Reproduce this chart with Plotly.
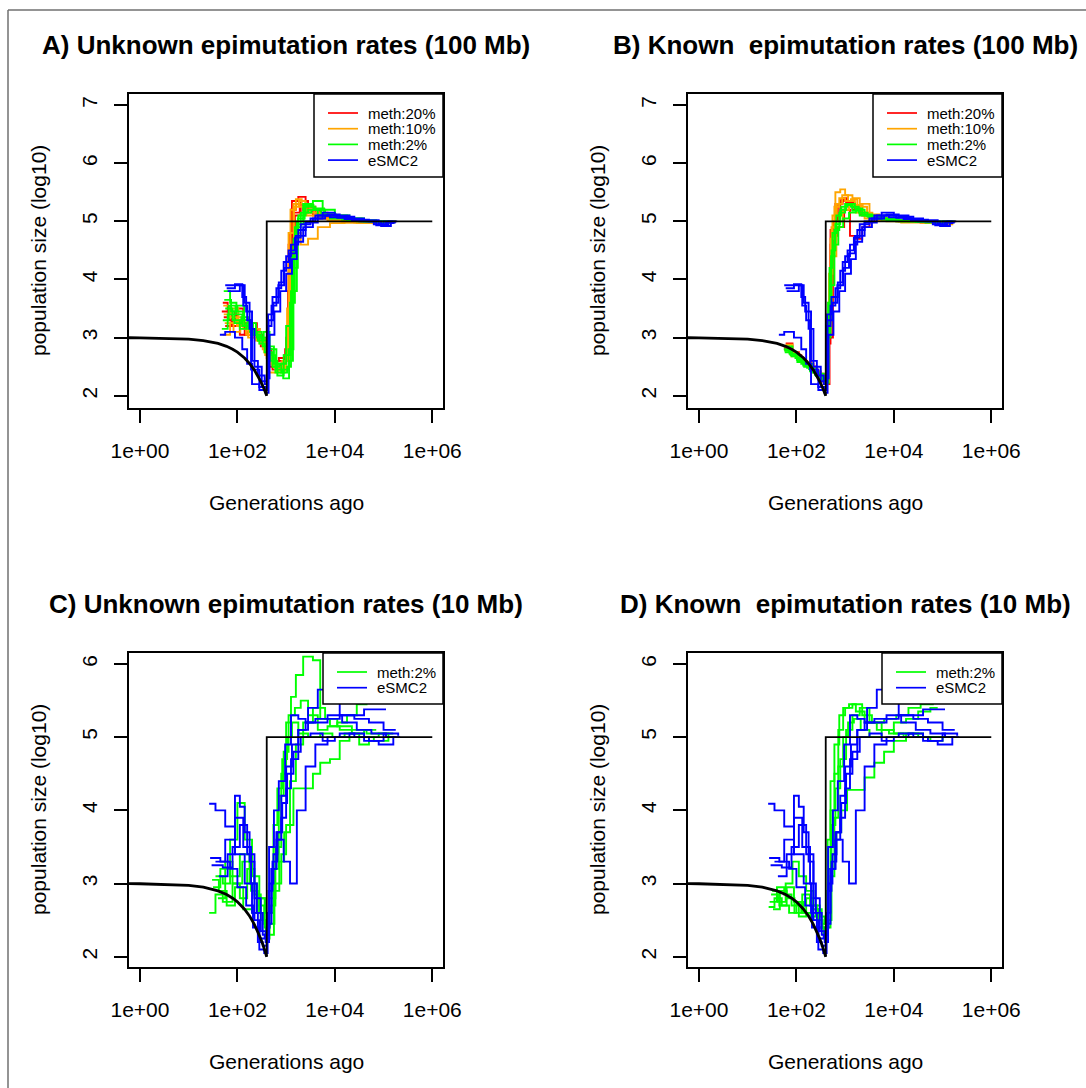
import numpy as np
import plotly.graph_objects as go

W, H = 1086, 1088
FONT = "Liberation Sans, Arial, Helvetica, sans-serif"

# ---------------- data (log10 generations ago, log10 population size) ----------------
# true (simulated) demography
TRUE_CURVE_T = [0.3, 1, 10, 20, 40, 60, 80, 100, 140, 180, 220, 260, 300, 340, 370, 390, 400]
TRUE_CURVE_V = [2.9993, 2.9975, 2.975, 2.95, 2.90, 2.85, 2.80, 2.75, 2.65, 2.55, 2.45, 2.35,
                2.25, 2.15, 2.075, 2.025, 2.0]
TRUE_STEP_T = [400, 400, 1e6]
TRUE_STEP_V = [2.0, 5.0, 5.0]

# eSMC2 (blue), 100 Mb - same in panels A and B
BLUE_100 = [
    ([1.75, 2.12, 2.20, 2.28, 2.45, 2.58, 2.62, 2.70, 2.80, 2.90, 3.00, 3.10, 3.25, 3.40, 3.60, 3.85, 4.10, 4.40, 4.70, 4.85, 5.05, 5.25],
     [3.90, 3.55, 3.30, 2.45, 2.15, 2.10, 3.20, 3.55, 3.85, 4.15, 4.40, 4.60, 4.85, 5.00, 5.10, 5.12, 5.08, 5.03, 5.00, 4.93, 4.98, 4.98]),
    ([1.78, 1.95, 2.10, 2.18, 2.30, 2.42, 2.56, 2.63, 2.72, 2.85, 2.95, 3.05, 3.18, 3.30, 3.50, 3.75, 4.00, 4.30, 4.60, 4.90, 5.10, 5.28],
     [3.85, 3.92, 3.70, 3.45, 2.60, 2.35, 2.20, 3.40, 3.70, 3.95, 4.30, 4.50, 4.72, 4.95, 5.05, 5.15, 5.10, 5.05, 5.02, 4.95, 5.00, 5.00]),
    ([1.80, 2.05, 2.15, 2.25, 2.35, 2.50, 2.60, 2.66, 2.76, 2.88, 3.00, 3.12, 3.22, 3.35, 3.55, 3.80, 4.05, 4.35, 4.65, 4.95, 5.15, 5.22],
     [3.80, 3.90, 3.60, 3.15, 2.50, 2.25, 2.30, 3.05, 3.45, 3.80, 4.10, 4.35, 4.65, 4.90, 5.05, 5.10, 5.06, 5.02, 5.00, 4.92, 4.97, 4.97]),
    ([1.64, 1.75, 1.95, 2.10, 2.20, 2.30, 2.45, 2.58, 2.64, 2.74, 2.84, 2.96, 3.08, 3.20, 3.40, 3.65, 3.90, 4.20, 4.50, 4.80, 5.00, 5.20],
     [3.05, 3.10, 3.00, 2.80, 2.55, 2.20, 2.10, 2.05, 3.30, 3.60, 3.90, 4.20, 4.45, 4.75, 4.98, 5.10, 5.07, 5.04, 5.00, 4.95, 5.00, 5.00]),
]

# panel A: unknown epimutation rates (100 Mb)
RED_A = [
    ([1.70, 1.80, 1.95, 2.10, 2.25, 2.40, 2.52, 2.62, 2.80, 2.95, 3.05, 3.12, 3.25, 3.40, 3.60, 3.85, 4.10, 4.40, 4.70, 5.00, 5.25],
     [3.60, 3.45, 3.30, 3.20, 3.25, 3.05, 2.90, 2.55, 2.50, 2.60, 4.60, 5.35, 5.42, 5.25, 5.15, 5.07, 5.03, 5.00, 4.98, 5.00, 5.00]),
    ([1.72, 1.90, 2.05, 2.20, 2.35, 2.48, 2.60, 2.72, 2.88, 3.00, 3.10, 3.20, 3.35, 3.55, 3.80, 4.05, 4.35, 4.65, 4.95, 5.20],
     [3.35, 3.20, 3.05, 3.10, 3.00, 2.85, 2.70, 2.45, 2.55, 3.00, 5.20, 5.30, 5.20, 5.10, 5.05, 5.02, 5.00, 4.98, 5.00, 5.00]),
    ([1.75, 1.88, 2.00, 2.15, 2.30, 2.45, 2.58, 2.70, 2.85, 2.98, 3.08, 3.18, 3.30, 3.45, 3.70, 3.95, 4.25, 4.55, 4.85, 5.15],
     [3.20, 3.40, 3.25, 3.05, 3.15, 2.95, 2.80, 2.60, 2.65, 2.80, 4.80, 5.10, 5.35, 5.20, 5.08, 5.03, 5.00, 5.00, 4.98, 4.98]),
    ([1.68, 1.82, 1.97, 2.12, 2.28, 2.42, 2.55, 2.66, 2.82, 2.96, 3.04, 3.14, 3.28, 3.45, 3.65, 3.90, 4.20, 4.50, 4.80, 5.10, 5.26],
     [3.45, 3.30, 3.50, 3.25, 3.05, 2.95, 2.85, 2.50, 2.60, 2.70, 3.80, 5.15, 5.30, 5.15, 5.06, 5.02, 5.00, 4.99, 4.98, 5.00, 5.00]),
]
ORANGE_A = [
    ([1.70, 1.85, 2.00, 2.12, 2.28, 2.42, 2.55, 2.65, 2.80, 2.95, 3.05, 3.15, 3.28, 3.42, 3.60, 3.85, 4.15, 4.45, 4.75, 5.05, 5.25],
     [3.05, 3.25, 3.35, 3.15, 3.10, 2.95, 2.75, 2.40, 2.45, 2.60, 4.80, 5.30, 5.25, 5.10, 5.05, 5.02, 4.98, 4.97, 4.98, 5.00, 5.00]),
    ([1.72, 1.88, 2.02, 2.18, 2.32, 2.46, 2.60, 2.75, 2.90, 3.00, 3.10, 3.20, 3.30, 3.45, 3.65, 3.90, 4.20, 4.50, 4.80, 5.10, 5.22],
     [3.40, 3.50, 3.20, 3.05, 3.15, 2.90, 2.65, 2.50, 2.45, 2.70, 4.50, 4.80, 4.60, 4.70, 4.90, 4.97, 4.98, 4.97, 4.96, 4.98, 4.98]),
    ([1.74, 1.92, 2.06, 2.22, 2.38, 2.52, 2.64, 2.78, 2.92, 3.02, 3.09, 3.20, 3.32, 3.48, 3.70, 3.95, 4.25, 4.55, 4.85, 5.15],
     [3.25, 3.10, 3.30, 3.00, 2.95, 2.80, 2.55, 2.45, 2.60, 3.50, 5.20, 5.38, 5.30, 5.15, 5.05, 5.00, 4.99, 4.98, 4.98, 4.98]),
    ([1.71, 1.84, 1.99, 2.14, 2.30, 2.44, 2.57, 2.70, 2.84, 2.97, 3.06, 3.16, 3.26, 3.40, 3.58, 3.80, 4.10, 4.40, 4.70, 5.00, 5.24],
     [3.55, 3.35, 3.20, 3.30, 3.10, 3.00, 2.70, 2.55, 2.40, 2.50, 4.20, 5.25, 5.35, 5.20, 5.10, 5.04, 5.00, 4.98, 4.97, 4.99, 4.99]),
]
GREEN_A = [
    ([1.72, 1.85, 1.98, 2.12, 2.26, 2.40, 2.52, 2.62, 2.78, 2.92, 3.05, 3.15, 3.25, 3.40, 3.60, 3.80, 4.00, 4.25, 4.55, 4.85, 5.15, 5.25],
     [3.80, 3.60, 3.45, 3.30, 3.10, 3.00, 2.85, 2.70, 2.40, 2.45, 2.80, 4.70, 5.10, 5.25, 5.20, 5.12, 5.10, 5.05, 5.02, 5.00, 5.00, 5.00]),
    ([1.70, 1.82, 1.96, 2.10, 2.25, 2.38, 2.50, 2.62, 2.75, 2.90, 3.02, 3.10, 3.22, 3.35, 3.55, 3.75, 4.00, 4.30, 4.60, 4.90, 5.20],
     [3.30, 3.55, 3.40, 3.20, 3.25, 3.10, 2.95, 2.85, 2.55, 2.40, 2.50, 3.80, 5.00, 5.30, 5.35, 5.20, 5.10, 5.05, 5.00, 4.98, 4.98]),
    ([1.75, 1.90, 2.05, 2.18, 2.32, 2.45, 2.56, 2.68, 2.82, 2.95, 3.08, 3.18, 3.30, 3.45, 3.65, 3.90, 4.15, 4.45, 4.75, 5.05, 5.22],
     [3.50, 3.30, 3.15, 3.25, 3.05, 2.90, 2.75, 2.60, 2.35, 2.70, 3.60, 4.90, 5.15, 5.20, 5.10, 5.05, 5.03, 5.00, 5.00, 4.97, 4.97]),
    ([1.68, 1.80, 1.94, 2.08, 2.22, 2.36, 2.48, 2.60, 2.72, 2.86, 3.00, 3.12, 3.22, 3.36, 3.52, 3.72, 3.95, 4.25, 4.55, 4.85, 5.15],
     [3.15, 3.40, 3.25, 3.35, 3.15, 3.05, 3.00, 2.75, 2.50, 2.55, 3.20, 4.40, 4.95, 5.15, 5.20, 5.12, 5.06, 5.02, 5.00, 5.00, 5.00]),
    ([1.73, 1.87, 2.00, 2.14, 2.28, 2.42, 2.54, 2.66, 2.80, 2.94, 3.06, 3.14, 3.24, 3.38, 3.56, 3.78, 4.02, 4.30, 4.60, 4.90, 5.18],
     [3.65, 3.45, 3.55, 3.20, 3.05, 2.95, 3.10, 2.80, 2.45, 2.30, 2.60, 4.20, 5.05, 5.28, 5.22, 5.12, 5.06, 5.02, 5.00, 4.99, 4.99]),
]

# panel B: known epimutation rates (100 Mb)
RED_B = [
    ([1.74, 1.85, 1.98, 2.10, 2.22, 2.35, 2.48, 2.58, 2.64, 2.70, 2.76, 2.85, 2.95, 3.05, 3.18, 3.30, 3.45, 3.65, 3.90, 4.20, 4.50, 4.80, 5.10, 5.25],
     [2.85, 2.75, 2.70, 2.60, 2.55, 2.40, 2.30, 2.25, 3.05, 4.60, 5.00, 5.30, 5.40, 5.35, 5.25, 5.15, 5.10, 5.06, 5.03, 5.00, 4.99, 4.98, 5.00, 5.00]),
    ([1.76, 1.90, 2.02, 2.15, 2.28, 2.40, 2.52, 2.60, 2.68, 2.75, 2.85, 2.98, 3.10, 3.22, 3.35, 3.50, 3.70, 3.95, 4.25, 4.55, 4.85, 5.15],
     [2.80, 2.70, 2.65, 2.55, 2.50, 2.35, 2.25, 2.20, 3.00, 4.75, 4.90, 5.20, 4.75, 4.70, 4.90, 5.05, 5.05, 5.02, 5.00, 4.98, 4.98, 4.98]),
    ([1.78, 1.92, 2.05, 2.18, 2.30, 2.44, 2.56, 2.63, 2.70, 2.80, 2.92, 3.05, 3.20, 3.35, 3.55, 3.80, 4.10, 4.40, 4.70, 5.00, 5.20],
     [2.90, 2.75, 2.62, 2.58, 2.45, 2.38, 2.28, 2.90, 4.85, 5.30, 5.38, 5.32, 5.20, 5.10, 5.05, 5.03, 5.00, 5.00, 4.98, 5.00, 5.00]),
    ([1.75, 1.88, 2.00, 2.14, 2.26, 2.38, 2.50, 2.60, 2.66, 2.72, 2.80, 2.90, 3.02, 3.15, 3.30, 3.50, 3.75, 4.05, 4.35, 4.65, 4.95, 5.22],
     [2.82, 2.72, 2.66, 2.56, 2.50, 2.42, 2.32, 2.22, 3.30, 4.50, 5.10, 5.35, 5.30, 5.20, 5.12, 5.06, 5.02, 5.00, 4.99, 4.98, 4.99, 4.99]),
]
ORANGE_B = [
    ([1.74, 1.88, 2.00, 2.12, 2.25, 2.38, 2.50, 2.60, 2.66, 2.72, 2.80, 2.90, 3.00, 3.15, 3.30, 3.50, 3.70, 3.95, 4.25, 4.55, 4.85, 5.15, 5.28],
     [2.85, 2.72, 2.65, 2.58, 2.50, 2.40, 2.30, 2.25, 3.60, 4.90, 5.50, 5.55, 5.45, 5.40, 5.30, 5.12, 5.05, 5.02, 5.00, 4.98, 4.96, 5.00, 5.00]),
    ([1.76, 1.90, 2.04, 2.18, 2.30, 2.42, 2.54, 2.62, 2.70, 2.78, 2.88, 3.00, 3.12, 3.25, 3.45, 3.70, 4.00, 4.30, 4.60, 4.90, 5.20],
     [2.78, 2.68, 2.60, 2.52, 2.45, 2.35, 2.25, 3.20, 4.70, 5.25, 5.40, 5.35, 5.38, 5.25, 5.10, 5.05, 5.02, 5.00, 4.98, 4.95, 4.98]),
    ([1.78, 1.92, 2.06, 2.20, 2.34, 2.46, 2.58, 2.64, 2.72, 2.82, 2.95, 3.08, 3.22, 3.40, 3.60, 3.85, 4.15, 4.45, 4.75, 5.05, 5.22],
     [2.88, 2.72, 2.62, 2.55, 2.42, 2.32, 2.20, 3.40, 4.40, 5.00, 5.20, 5.28, 5.15, 5.05, 5.02, 5.00, 4.98, 4.98, 4.97, 4.99, 4.99]),
    ([1.77, 1.90, 2.03, 2.16, 2.29, 2.41, 2.53, 2.61, 2.67, 2.74, 2.83, 2.94, 3.06, 3.20, 3.36, 3.56, 3.80, 4.10, 4.40, 4.70, 5.00, 5.25],
     [2.84, 2.74, 2.64, 2.56, 2.48, 2.38, 2.28, 2.24, 4.10, 5.10, 5.30, 5.45, 5.35, 5.28, 5.15, 5.08, 5.03, 5.00, 4.99, 4.97, 5.00, 5.00]),
]
GREEN_B = [
    ([1.74, 1.86, 1.98, 2.10, 2.22, 2.34, 2.46, 2.56, 2.63, 2.68, 2.74, 2.82, 2.92, 3.05, 3.20, 3.35, 3.55, 3.80, 4.10, 4.40, 4.70, 5.00, 5.22],
     [2.80, 2.72, 2.65, 2.55, 2.48, 2.40, 2.32, 2.25, 3.10, 4.20, 4.80, 5.10, 5.25, 5.30, 5.22, 5.12, 5.08, 5.05, 5.02, 5.00, 5.00, 5.00, 5.00]),
    ([1.76, 1.90, 2.02, 2.16, 2.28, 2.40, 2.52, 2.60, 2.66, 2.72, 2.80, 2.90, 3.02, 3.15, 3.30, 3.50, 3.75, 4.05, 4.35, 4.65, 4.95, 5.20],
     [2.75, 2.68, 2.58, 2.50, 2.42, 2.35, 2.28, 2.22, 3.40, 4.50, 4.95, 5.20, 5.28, 5.18, 5.10, 5.05, 5.03, 5.00, 5.00, 4.98, 4.98, 4.98]),
    ([1.78, 1.92, 2.06, 2.18, 2.32, 2.44, 2.56, 2.64, 2.70, 2.78, 2.86, 2.96, 3.08, 3.22, 3.40, 3.60, 3.85, 4.15, 4.45, 4.75, 5.05, 5.25],
     [2.85, 2.70, 2.62, 2.55, 2.45, 2.38, 2.30, 3.00, 3.90, 4.60, 4.90, 5.05, 5.15, 5.20, 5.10, 5.05, 5.02, 5.00, 4.99, 5.00, 5.00, 5.00]),
    ([1.75, 1.88, 2.01, 2.14, 2.26, 2.38, 2.50, 2.59, 2.65, 2.71, 2.78, 2.88, 3.00, 3.12, 3.28, 3.46, 3.70, 4.00, 4.30, 4.60, 4.90, 5.18],
     [2.78, 2.70, 2.62, 2.52, 2.46, 2.36, 2.30, 2.24, 3.60, 4.40, 4.85, 5.15, 5.30, 5.25, 5.15, 5.08, 5.04, 5.01, 5.00, 4.99, 4.99, 4.99]),
]

# eSMC2 (blue), 10 Mb - same in panels C and D
BLUE_10 = [
    ([1.42, 1.55, 1.75, 1.95, 2.15, 2.30, 2.42, 2.52, 2.60, 2.66, 2.74, 2.82, 2.92, 3.02, 3.15, 3.30, 3.50, 3.75, 4.00, 4.30, 4.60, 4.90, 5.20, 5.34],
     [4.09, 4.00, 3.78, 3.40, 3.00, 2.60, 2.20, 2.15, 2.40, 3.00, 3.40, 3.70, 4.10, 4.50, 4.80, 5.00, 5.05, 4.95, 5.00, 5.05, 4.95, 4.90, 5.00, 5.00]),
    ([1.62, 1.80, 1.95, 2.05, 2.15, 2.25, 2.35, 2.45, 2.55, 2.62, 2.70, 2.80, 2.90, 3.00, 3.10, 3.25, 3.45, 3.65, 3.85, 4.10, 4.40, 4.70, 5.00, 5.25],
     [3.10, 3.40, 4.20, 4.05, 3.70, 3.30, 2.50, 2.10, 2.05, 2.60, 3.20, 3.60, 3.90, 4.30, 4.70, 5.10, 5.40, 5.65, 5.50, 5.30, 5.25, 5.20, 5.10, 5.10]),
    ([1.44, 1.65, 1.85, 2.00, 2.18, 2.32, 2.45, 2.56, 2.64, 2.72, 2.82, 2.95, 3.08, 3.22, 3.40, 3.60, 3.85, 4.10, 4.40, 4.70, 5.00, 5.30],
     [3.35, 3.30, 3.20, 2.95, 2.70, 2.40, 2.25, 2.30, 2.90, 3.30, 3.60, 3.30, 3.00, 4.00, 4.60, 4.90, 5.00, 5.05, 5.00, 4.95, 5.05, 5.02]),
    ([1.47, 1.70, 1.90, 2.05, 2.20, 2.35, 2.48, 2.58, 2.65, 2.75, 2.85, 2.98, 3.10, 3.25, 3.40, 3.60, 3.85, 4.15, 4.45, 4.75, 5.05, 5.25],
     [3.25, 3.22, 3.50, 3.80, 3.40, 2.80, 2.35, 2.20, 3.50, 4.00, 4.40, 4.90, 5.30, 5.25, 5.20, 5.25, 5.30, 5.20, 5.10, 5.05, 5.00, 5.00]),
    ([1.55, 1.75, 1.95, 2.12, 2.28, 2.40, 2.52, 2.62, 2.70, 2.80, 2.90, 3.00, 3.12, 3.25, 3.40, 3.60, 3.85, 4.10, 4.35, 4.60, 4.90, 5.05],
     [3.30, 3.60, 3.90, 3.50, 3.00, 2.60, 2.30, 2.45, 3.20, 3.70, 4.20, 4.60, 4.90, 5.10, 5.20, 5.20, 5.25, 5.30, 5.30, 5.38, 5.38, 5.38]),
]

# panel C: unknown epimutation rates (10 Mb)
GREEN_C = [
    ([1.50, 1.65, 1.85, 2.05, 2.25, 2.40, 2.55, 2.65, 2.78, 2.90, 3.00, 3.10, 3.20, 3.35, 3.55, 3.70, 3.90, 4.10, 4.35, 4.60, 4.85],
     [2.95, 3.20, 3.10, 3.40, 3.00, 2.70, 2.50, 2.80, 3.50, 4.50, 5.20, 5.55, 5.85, 6.10, 6.05, 5.25, 5.15, 5.10, 5.05, 5.10, 5.10]),
    ([1.42, 1.55, 1.70, 1.90, 2.10, 2.28, 2.42, 2.55, 2.65, 2.75, 2.85, 2.95, 3.05, 3.18, 3.30, 3.45, 3.65, 3.85, 4.05, 4.25, 4.45, 4.65, 4.73],
     [2.60, 2.85, 2.75, 3.00, 3.30, 2.90, 2.60, 2.45, 2.30, 3.20, 4.20, 4.80, 5.30, 5.40, 5.50, 5.30, 5.10, 5.15, 5.20, 5.30, 5.45, 5.55, 5.55]),
    ([1.55, 1.70, 1.85, 2.00, 2.15, 2.30, 2.45, 2.58, 2.68, 2.78, 2.90, 3.00, 3.15, 3.35, 3.55, 3.70, 3.90, 4.10, 4.30, 4.50, 4.70, 4.90, 5.10],
     [3.10, 3.00, 3.60, 4.10, 3.60, 3.10, 2.80, 2.60, 2.70, 3.00, 3.40, 3.80, 4.30, 4.30, 4.50, 4.65, 4.70, 4.95, 5.00, 4.90, 5.00, 5.05, 5.00]),
    ([1.60, 1.75, 1.90, 2.05, 2.20, 2.35, 2.48, 2.58, 2.66, 2.74, 2.82, 2.92, 3.02, 3.12, 3.25, 3.45, 3.70, 3.95, 4.20, 4.50, 4.80, 5.10, 5.25],
     [2.80, 3.30, 3.00, 2.80, 3.20, 2.85, 2.50, 2.25, 2.60, 3.80, 4.30, 4.70, 5.00, 5.20, 5.05, 5.00, 5.05, 5.00, 5.05, 5.00, 4.95, 5.00, 5.00]),
    ([1.48, 1.62, 1.78, 1.95, 2.12, 2.30, 2.45, 2.56, 2.66, 2.76, 2.86, 2.96, 3.08, 3.20, 3.35, 3.55, 3.80, 4.05, 4.35, 4.65, 4.95, 5.20],
     [3.05, 2.90, 2.70, 2.95, 2.65, 2.60, 2.80, 2.40, 2.45, 2.90, 3.30, 3.70, 4.40, 4.90, 5.20, 5.40, 5.25, 5.15, 5.10, 5.05, 5.05, 5.05]),
]

# panel D: known epimutation rates (10 Mb)
GREEN_D = [
    ([1.43, 1.55, 1.70, 1.85, 2.00, 2.15, 2.30, 2.45, 2.56, 2.64, 2.70, 2.78, 2.88, 3.00, 3.15, 3.35, 3.55, 3.80, 4.05, 4.30, 4.55, 4.80, 4.88],
     [2.68, 2.80, 2.70, 2.60, 2.75, 2.60, 2.50, 2.40, 2.35, 3.60, 4.40, 4.90, 5.30, 5.40, 5.45, 5.30, 5.20, 5.25, 5.30, 5.40, 5.45, 5.50, 5.50]),
    ([1.48, 1.62, 1.78, 1.92, 2.05, 2.20, 2.35, 2.48, 2.58, 2.65, 2.72, 2.80, 2.90, 3.02, 3.15, 3.30, 3.50, 3.75, 4.00, 4.30, 4.60, 4.90, 5.15],
     [2.85, 2.75, 3.00, 3.30, 3.10, 2.90, 2.70, 2.55, 2.45, 3.20, 3.80, 4.30, 4.70, 5.10, 5.30, 5.40, 5.20, 5.10, 5.05, 5.05, 5.00, 5.00, 5.00]),
    ([1.52, 1.66, 1.80, 1.96, 2.12, 2.28, 2.42, 2.54, 2.64, 2.72, 2.82, 2.92, 3.04, 3.20, 3.40, 3.60, 3.80, 4.00, 4.25, 4.50, 4.75, 5.00, 5.20],
     [2.65, 2.90, 2.80, 2.60, 2.85, 2.70, 2.50, 2.40, 2.50, 3.40, 3.70, 4.00, 4.28, 4.28, 4.45, 4.65, 4.80, 4.95, 5.05, 5.00, 4.95, 5.00, 5.00]),
    ([1.45, 1.60, 1.75, 1.90, 2.05, 2.20, 2.34, 2.46, 2.56, 2.64, 2.70, 2.78, 2.86, 2.96, 3.08, 3.22, 3.40, 3.65, 3.90, 4.20, 4.50, 4.80, 5.10, 5.25],
     [2.75, 2.95, 2.85, 2.70, 2.55, 2.80, 2.65, 2.40, 2.30, 2.90, 4.00, 4.50, 5.10, 5.40, 5.45, 5.35, 5.20, 5.10, 5.05, 5.00, 5.00, 5.00, 5.00, 5.00]),
    ([1.50, 1.65, 1.80, 1.95, 2.10, 2.25, 2.40, 2.52, 2.62, 2.70, 2.78, 2.86, 2.96, 3.06, 3.18, 3.32, 3.50, 3.75, 4.00, 4.25, 4.50, 4.75, 4.90],
     [2.90, 2.70, 2.95, 2.75, 2.60, 2.55, 2.65, 2.45, 2.40, 3.10, 3.90, 4.60, 5.00, 5.20, 5.25, 5.10, 5.00, 5.10, 5.20, 5.25, 5.35, 5.40, 5.40]),
]

TITLES = ["A) Unknown epimutation rates (100 Mb)", "B) Known  epimutation rates (100 Mb)",
          "C) Unknown epimutation rates (10 Mb)", "D) Known  epimutation rates (10 Mb)"]
X_TICKVALS = [1, 100, 1e4, 1e6]
X_TICKTEXT = ["1e+00", "1e+02", "1e+04", "1e+06"]
LEGEND_100 = ["meth:20%", "meth:10%", "meth:2%", "eSMC2"]
LEGEND_10 = ["meth:2%", "eSMC2"]

RED, ORANGE, GREEN, BLUE = "#FF0000", "#FFA500", "#00FF00", "#0000FF"

# ---------------- layout geometry (pixels) ----------------
def px(x):
    return x / W


def py(y):
    return 1 - y / H


PANELS = [
    dict(L=129, R=443, T=94, B=408, yr=[1.79, 7.19], yt=[2, 3, 4, 5, 6, 7],
         series=[(RED_A, RED), (ORANGE_A, ORANGE), (GREEN_A, GREEN), (BLUE_100, BLUE)],
         legend=(LEGEND_100, [RED, ORANGE, GREEN, BLUE])),
    dict(L=688, R=1002, T=94, B=408, yr=[1.79, 7.19], yt=[2, 3, 4, 5, 6, 7],
         series=[(RED_B, RED), (ORANGE_B, ORANGE), (GREEN_B, GREEN), (BLUE_100, BLUE)],
         legend=(LEGEND_100, [RED, ORANGE, GREEN, BLUE])),
    dict(L=129, R=443, T=653, B=967, yr=[1.86, 6.15], yt=[2, 3, 4, 5, 6],
         series=[(GREEN_C, GREEN), (BLUE_10, BLUE)],
         legend=(LEGEND_10, [GREEN, BLUE])),
    dict(L=688, R=1002, T=653, B=967, yr=[1.86, 6.15], yt=[2, 3, 4, 5, 6],
         series=[(GREEN_D, GREEN), (BLUE_10, BLUE)],
         legend=(LEGEND_10, [GREEN, BLUE])),
]

fig = go.Figure()
shapes, annotations = [], []
layout = dict(width=W, height=H, margin=dict(l=0, r=0, t=0, b=0, pad=0, autoexpand=False),
              paper_bgcolor="white", plot_bgcolor="white", showlegend=False,
              font=dict(family=FONT, color="black"))

for i, p in enumerate(PANELS):
    k = "" if i == 0 else str(i + 1)
    xa, ya = "x" + k, "y" + k
    for reps, col in p["series"]:
        for t, v in reps:
            fig.add_trace(go.Scatter(x=10 ** np.array(t), y=v, mode="lines", line_shape="hv",
                                     line=dict(color=col, width=1.9), xaxis=xa, yaxis=ya,
                                     hoverinfo="skip"))
    fig.add_trace(go.Scatter(x=TRUE_CURVE_T, y=TRUE_CURVE_V, mode="lines",
                             line=dict(color="black", width=2.8), xaxis=xa, yaxis=ya, hoverinfo="skip"))
    fig.add_trace(go.Scatter(x=TRUE_STEP_T, y=TRUE_STEP_V, mode="lines",
                             line=dict(color="black", width=1.8), xaxis=xa, yaxis=ya, hoverinfo="skip"))

    layout["xaxis" + k] = dict(
        domain=[px(p["L"]), px(p["R"])], anchor=ya, type="log", range=[-0.225, 6.22],
        tickvals=X_TICKVALS, ticktext=X_TICKTEXT, showline=True, mirror=True,
        linecolor="black", linewidth=1.5, ticks="outside", ticklen=13, tickwidth=1.5,
        tickcolor="black", showgrid=False, zeroline=False, ticklabelstandoff=10,
        automargin=False, tickfont=dict(size=21, family=FONT, color="black"))
    layout["yaxis" + k] = dict(
        domain=[py(p["B"]), py(p["T"])], anchor=xa, range=p["yr"], tickvals=p["yt"],
        showline=True, mirror=True, linecolor="black", linewidth=1.5, ticks="outside",
        ticklen=13, tickwidth=1.5, tickcolor="black", showgrid=False, zeroline=False,
        tickangle=-90, ticklabelstandoff=9, automargin=False,
        tickfont=dict(size=21, family=FONT, color="black"))

    cx = (p["L"] + p["R"]) / 2
    annotations.append(dict(x=px(cx), y=py(p["T"] - 49), xref="paper", yref="paper",
                            text="<b>" + TITLES[i] + "</b>", showarrow=False,
                            xanchor="center", yanchor="middle",
                            font=dict(size=26, family=FONT, color="black")))
    annotations.append(dict(x=px(cx), y=py(p["B"] + 94), xref="paper", yref="paper",
                            text="Generations ago", showarrow=False,
                            xanchor="center", yanchor="middle",
                            font=dict(size=21, family=FONT, color="black")))
    annotations.append(dict(x=px(p["L"] - 91), y=py((p["T"] + p["B"]) / 2), xref="paper",
                            yref="paper", text="population size (log10)", showarrow=False,
                            textangle=-90, xanchor="center", yanchor="middle",
                            font=dict(size=21, family=FONT, color="black")))

    # legend box (R legend, topright)
    labels, cols = p["legend"]
    n = len(labels)
    lx0 = p["L"] + (185 if n == 4 else 194)
    lb = p["T"] + (83 if n == 4 else 51)
    shapes.append(dict(type="rect", xref="paper", yref="paper", x0=px(lx0), x1=px(p["R"]),
                       y0=py(lb), y1=py(p["T"]), fillcolor="white",
                       line=dict(color="black", width=1.5), layer="above"))
    for j, (lab, c) in enumerate(zip(labels, cols)):
        yy = p["T"] + 19 + j * 15.7
        shapes.append(dict(type="line", xref="paper", yref="paper", x0=px(lx0 + 14),
                           x1=px(lx0 + 44), y0=py(yy), y1=py(yy),
                           line=dict(color=c, width=1.7), layer="above"))
        annotations.append(dict(x=px(lx0 + 52), y=py(yy), xref="paper", yref="paper",
                                text=lab, showarrow=False, xanchor="left", yanchor="middle",
                                font=dict(size=15, family=FONT, color="black")))

# outer frame (left and top edges)
shapes.append(dict(type="line", xref="paper", yref="paper", x0=px(8), x1=px(W + 5),
                   y0=py(10), y1=py(10), line=dict(color="#707070", width=1.5)))
shapes.append(dict(type="line", xref="paper", yref="paper", x0=px(8), x1=px(8),
                   y0=py(10), y1=py(H + 5), line=dict(color="#707070", width=1.5)))

layout["shapes"] = shapes
layout["annotations"] = annotations
fig.update_layout(**layout)
fig.write_html("out.html", config={"displayModeBar": False},
               post_script="document.body.style.margin='0';document.body.style.overflow='hidden';")
